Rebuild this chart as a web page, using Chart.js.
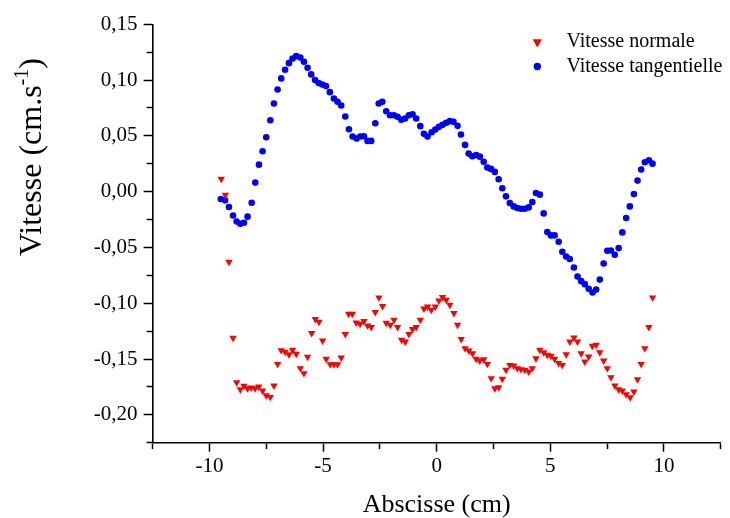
<!DOCTYPE html>
<html>
<head>
<meta charset="utf-8">
<script src="https://cdn.jsdelivr.net/npm/chart.js@4/dist/chart.umd.min.js"></script>
<style>
  body { margin: 0; background: #fff; }
  canvas { display: block; }
</style>
</head>
<body>
<canvas id="chart" width="730" height="518"></canvas>
<script>
// Vitesse normale (triangles rouges)
const xNormale = [-9.48, -9.30, -9.14, -8.96, -8.80, -8.64, -8.48, -8.32, -8.16, -7.99, -7.83, -7.66, -7.50, -7.32, -7.16, -7.00,
  -6.84, -6.67, -6.50, -6.34, -6.18, -6.00, -5.84, -5.68, -5.50, -5.34, -5.18, -5.02, -4.86, -4.68, -4.52, -4.36,
  -4.20, -4.02, -3.87, -3.71, -3.54, -3.37, -3.20, -3.04, -2.88, -2.70, -2.54, -2.38, -2.22, -2.04, -1.88, -1.72,
  -1.54, -1.38, -1.22, -1.06, -0.90, -0.72, -0.56, -0.40, -0.24, -0.06, 0.10, 0.26, 0.42, 0.58, 0.76, 0.92,
  1.08, 1.25, 1.42, 1.58, 1.74, 1.90, 2.07, 2.23, 2.40, 2.56, 2.73, 2.89, 3.05, 3.22, 3.39, 3.55,
  3.71, 3.88, 4.05, 4.21, 4.37, 4.54, 4.71, 4.87, 5.03, 5.19, 5.37, 5.53, 5.70, 5.86, 6.04, 6.20,
  6.36, 6.52, 6.69, 6.85, 7.02, 7.18, 7.35, 7.51, 7.67, 7.84, 8.01, 8.17, 8.34, 8.52, 8.68, 8.84,
  9.00, 9.16, 9.34, 9.50];
const vNormale = [0.0114, -0.0030, -0.0629, -0.1311, -0.1709, -0.1772, -0.1742, -0.1763, -0.1757, -0.1763, -0.1748, -0.1784, -0.1826, -0.1841, -0.1739, -0.1545,
  -0.1422, -0.1437, -0.1458, -0.1419, -0.1455, -0.1583, -0.1628, -0.1482, -0.1269, -0.1143, -0.1167, -0.1335, -0.1500, -0.1548, -0.1548, -0.1548,
  -0.1488, -0.1278, -0.1096, -0.1096, -0.1174, -0.1185, -0.1161, -0.1200, -0.1215, -0.1080, -0.0949, -0.1026, -0.1176, -0.1194, -0.1149, -0.1215,
  -0.1329, -0.1344, -0.1278, -0.1233, -0.1215, -0.1149, -0.1048, -0.1030, -0.1060, -0.1030, -0.0976, -0.0946, -0.0970, -0.1015, -0.1090, -0.1194,
  -0.1323, -0.1404, -0.1425, -0.1449, -0.1500, -0.1515, -0.1503, -0.1545, -0.1673, -0.1763, -0.1754, -0.1679, -0.1598, -0.1554, -0.1560, -0.1583,
  -0.1592, -0.1598, -0.1614, -0.1583, -0.1494, -0.1419, -0.1440, -0.1464, -0.1473, -0.1500, -0.1538, -0.1554, -0.1458, -0.1344, -0.1308, -0.1344,
  -0.1449, -0.1524, -0.1479, -0.1383, -0.1374, -0.1440, -0.1515, -0.1583, -0.1664, -0.1739, -0.1772, -0.1784, -0.1817, -0.1844, -0.1793, -0.1682,
  -0.1545, -0.1404, -0.1215, -0.0949];

// Vitesse tangentielle (ronds bleus)
const xTangentielle = [-9.50, -9.31, -9.14, -8.96, -8.80, -8.64, -8.48, -8.32, -8.14, -7.98, -7.82, -7.66, -7.50, -7.32, -7.16, -7.00,
  -6.84, -6.67, -6.50, -6.34, -6.18, -6.00, -5.84, -5.68, -5.52, -5.35, -5.19, -5.03, -4.87, -4.70, -4.52, -4.36,
  -4.20, -4.02, -3.86, -3.70, -3.52, -3.36, -3.20, -3.04, -2.88, -2.70, -2.55, -2.39, -2.22, -2.05, -1.88, -1.72,
  -1.56, -1.39, -1.22, -1.06, -0.90, -0.72, -0.56, -0.40, -0.22, -0.06, 0.10, 0.26, 0.42, 0.58, 0.74, 0.92,
  1.07, 1.25, 1.41, 1.57, 1.74, 1.90, 2.07, 2.23, 2.39, 2.56, 2.73, 2.89, 3.05, 3.22, 3.39, 3.55,
  3.71, 3.88, 4.05, 4.21, 4.37, 4.54, 4.71, 4.87, 5.03, 5.19, 5.37, 5.53, 5.70, 5.86, 6.04, 6.20,
  6.36, 6.52, 6.69, 6.86, 7.02, 7.18, 7.35, 7.51, 7.67, 7.84, 8.01, 8.17, 8.34, 8.50, 8.68, 8.84,
  9.00, 9.16, 9.34, 9.50];
const vTangentielle = [-0.0066, -0.0078, -0.0138, -0.0213, -0.0267, -0.0287, -0.0278, -0.0224, -0.0099, 0.0081, 0.0242, 0.0362, 0.0488, 0.0640, 0.0790, 0.0916,
  0.1015, 0.1093, 0.1152, 0.1194, 0.1215, 0.1203, 0.1165, 0.1111, 0.1051, 0.1000, 0.0973, 0.0961, 0.0946, 0.0892, 0.0835, 0.0806,
  0.0772, 0.0674, 0.0560, 0.0494, 0.0476, 0.0494, 0.0497, 0.0455, 0.0455, 0.0613, 0.0790, 0.0806, 0.0721, 0.0685, 0.0685, 0.0671,
  0.0644, 0.0656, 0.0685, 0.0694, 0.0656, 0.0587, 0.0518, 0.0494, 0.0533, 0.0557, 0.0581, 0.0599, 0.0617, 0.0632, 0.0626, 0.0590,
  0.0512, 0.0419, 0.0341, 0.0317, 0.0329, 0.0314, 0.0267, 0.0216, 0.0204, 0.0177, 0.0111, 0.0030, -0.0042, -0.0101, -0.0132, -0.0147,
  -0.0153, -0.0153, -0.0141, -0.0093, -0.0012, -0.0027, -0.0195, -0.0362, -0.0392, -0.0392, -0.0449, -0.0539, -0.0581, -0.0604, -0.0680, -0.0761,
  -0.0802, -0.0829, -0.0871, -0.0904, -0.0877, -0.0788, -0.0644, -0.0530, -0.0527, -0.0566, -0.0506, -0.0365, -0.0236, -0.0132, -0.0021, 0.0099,
  0.0198, 0.0263, 0.0281, 0.0251];

// graduations
const xMajor = [-10, -5, 0, 5, 10];
const xLabels = ['-10', '-5', '0', '5', '10'];
const yMajor = [-0.20, -0.15, -0.10, -0.05, 0.00, 0.05, 0.10, 0.15];
const yLabels = ['-0,20', '-0,15', '-0,10', '-0,05', '0,00', '0,05', '0,10', '0,15'];

const serif = 'Liberation Serif';

function majorLabel(v, major, labels) {
  const i = major.findIndex(m => Math.abs(m - v) < 1e-6);
  return i >= 0 ? labels[i] : '';
}

// titre Y avec exposant + légende dans le graphe
const extras = {
  id: 'extras',
  afterDraw(chart) {
    const c = chart.ctx;
    c.save();
    c.fillStyle = '#000';
    c.textBaseline = 'alphabetic';

    // titre axe Y
    c.translate(41, 157);
    c.rotate(-Math.PI / 2);
    const big = '32px "' + serif + '"';
    const small = '20px "' + serif + '"';
    c.font = big;
    const w1 = c.measureText('Vitesse (cm.s').width;
    const w3 = c.measureText(')').width;
    c.font = small;
    const w2 = c.measureText('-1').width;
    let x = -(w1 + w2 + w3) / 2;
    c.font = big;
    c.fillText('Vitesse (cm.s', x, 0);
    x += w1;
    c.font = small;
    c.fillText('-1', x, -13);
    x += w2;
    c.font = big;
    c.fillText(')', x, 0);
    c.restore();

    // légende
    const legendSize = [5.4, 3.7];
    c.save();
    c.font = '20px "' + serif + '"';
    c.textBaseline = 'alphabetic';
    chart.data.datasets.forEach((ds, i) => {
      const my = 42 + i * 24.5;
      c.fillStyle = ds.backgroundColor;
      Chart.helpers.drawPoint(c, {
        pointStyle: ds.pointStyle,
        rotation: ds.rotation || 0,
        radius: legendSize[i],
        borderWidth: 0
      }, 537.3, my);
      c.fillStyle = '#000';
      c.fillText(ds.label, 566.5, 47.3 + i * 25);
    });
    c.restore();
  }
};

function tickDash(side) {
  return ctx => {
    const v = ctx.tick ? ctx.tick.value : 0;
    const isMajor = side === 'x'
      ? xMajor.some(m => Math.abs(m - v) < 1e-6)
      : yMajor.some(m => Math.abs(m - v) < 1e-6);
    if (isMajor) return [];
    return side === 'x' ? [5.5, 100] : [0, 3, 7, 100];
  };
}

new Chart(document.getElementById('chart'), {
  type: 'scatter',
  data: {
    datasets: [{
      label: 'Vitesse normale',
      data: xNormale.map((x, i) => ({ x: x, y: vNormale[i] })),
      backgroundColor: '#ff0000',
      borderColor: '#ff0000',
      pointStyle: 'triangle',
      rotation: 180,
      pointRadius: 4.3,
      pointBorderWidth: 0
    }, {
      label: 'Vitesse tangentielle',
      data: xTangentielle.map((x, i) => ({ x: x, y: vTangentielle[i] })),
      backgroundColor: '#0000ff',
      borderColor: '#0000ff',
      pointStyle: 'circle',
      pointRadius: 3.3,
      pointBorderWidth: 0
    }]
  },
  options: {
    responsive: false,
    animation: false,
    events: [],
    devicePixelRatio: 1,
    layout: { padding: { top: 24.3, right: 9.3, left: 0, bottom: 0 } },
    plugins: { legend: { display: false }, tooltip: { enabled: false } },
    scales: {
      x: {
        type: 'linear',
        min: -12.5,
        max: 12.5,
        afterFit: s => { s.height = 75.3; },
        border: { display: true, color: '#000', width: 1.6 },
        grid: {
          drawOnChartArea: false,
          drawTicks: true,
          tickLength: 9,
          tickColor: '#000',
          tickWidth: 1.5,
          tickBorderDash: tickDash('x')
        },
        ticks: {
          stepSize: 2.5,
          autoSkip: false,
          maxRotation: 0,
          padding: 2,
          color: '#000',
          font: { family: serif, size: 21 },
          callback: v => majorLabel(v, xMajor, xLabels)
        },
        title: {
          display: true,
          text: 'Abscisse (cm)',
          color: '#000',
          font: { family: serif, size: 26, lineHeight: 1 },
          padding: { top: 0, bottom: 0 }
        }
      },
      y: {
        type: 'linear',
        min: -0.225,
        max: 0.15,
        afterFit: s => { s.width = 152.6; },
        border: { display: true, color: '#000', width: 1.6 },
        grid: {
          drawOnChartArea: false,
          drawTicks: true,
          tickLength: 9,
          tickColor: '#000',
          tickWidth: 1.5,
          tickBorderDash: tickDash('y')
        },
        ticks: {
          stepSize: 0.025,
          autoSkip: false,
          padding: 6,
          color: '#000',
          font: { family: serif, size: 21 },
          callback: v => majorLabel(v, yMajor, yLabels)
        }
      }
    }
  },
  plugins: [extras]
});
</script>
</body>
</html>
